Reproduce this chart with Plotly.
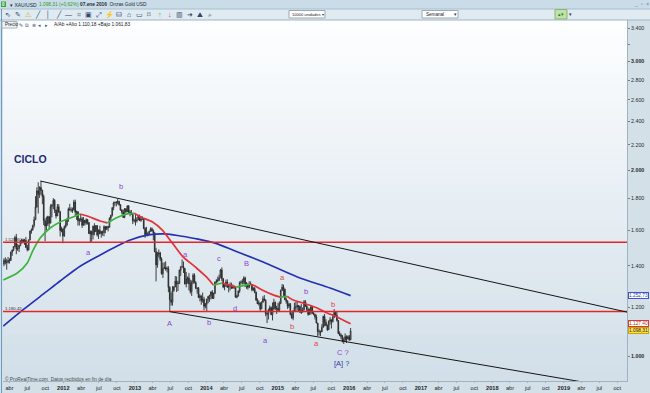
import math
import pandas as pd
import plotly.graph_objects as go

# ------------------------------------------------------------------ data
# weekly XAU/USD candles (high, low, close); open = previous close
prev_close_start = 1409.0
first_week = "2011-03-04"
weeks_2011 = [
    (1440, 1398, 1429), (1445, 1407, 1421), (1437, 1380, 1419), (1447, 1412, 1428),
    (1440, 1412, 1429), (1476, 1425, 1474), (1487, 1453, 1486), (1507, 1479, 1504),
    (1566, 1500, 1556), (1577, 1462, 1491), (1519, 1480, 1493), (1513, 1474, 1511),
    (1538, 1506, 1536), (1549, 1520, 1542), (1549, 1523, 1529), (1548, 1514, 1539),
    (1559, 1496, 1500), (1514, 1478, 1486), (1545, 1483, 1542), (1596, 1540, 1594),
    (1610, 1578, 1601), (1632, 1597, 1628), (1682, 1615, 1663), (1815, 1660, 1744),
    (1877, 1739, 1852), (1912, 1702, 1828), (1884, 1804, 1876), (1921, 1822, 1855),
    (1860, 1762, 1813), (1827, 1630, 1657), (1672, 1535, 1624), (1682, 1599, 1636),
    (1688, 1625, 1682), (1685, 1605, 1642), (1761, 1640, 1746), (1765, 1678, 1755),
    (1802, 1730, 1788), (1795, 1705, 1724), (1726, 1670, 1686), (1763, 1686, 1745),
    (1762, 1706, 1712), (1719, 1562, 1597), (1620, 1587, 1606), (1610, 1523, 1565),
]
weeks_2012 = [
    (1627, 1560, 1617), (1662, 1611, 1631), (1674, 1625, 1665), (1740, 1650, 1731),
    (1764, 1722, 1724), (1742, 1710, 1725), (1740, 1706, 1725), (1791, 1720, 1776),
    (1792, 1688, 1710), (1720, 1662, 1713), (1716, 1627, 1656), (1672, 1627, 1662),
    (1697, 1650, 1669), (1680, 1613, 1629), (1680, 1626, 1659), (1662, 1627, 1642),
    (1672, 1632, 1663), (1668, 1633, 1645), (1648, 1576, 1579), (1598, 1527, 1591),
    (1597, 1532, 1573), (1627, 1545, 1623), (1641, 1569, 1590), (1628, 1589, 1627),
    (1628, 1562, 1572), (1604, 1548, 1598), (1626, 1576, 1579), (1596, 1555, 1590),
    (1597, 1566, 1584), (1628, 1563, 1620), (1625, 1581, 1605), (1625, 1600, 1620),
    (1626, 1592, 1616), (1678, 1616, 1672), (1693, 1651, 1691), (1741, 1682, 1740),
    (1778, 1723, 1772), (1779, 1753, 1774), (1782, 1747, 1773), (1796, 1760, 1780),
    (1785, 1752, 1759), (1756, 1720, 1724), (1730, 1697, 1712), (1726, 1674, 1677),
    (1737, 1672, 1731), (1737, 1706, 1713), (1754, 1710, 1751), (1755, 1705, 1712),
    (1724, 1684, 1704), (1724, 1693, 1696), (1697, 1636, 1657), (1669, 1645, 1657),
]
weeks_2013 = [
    (1693, 1627, 1656), (1679, 1645, 1662), (1694, 1662, 1687), (1695, 1654, 1658),
    (1686, 1650, 1667), (1684, 1663, 1667), (1671, 1605, 1609), (1617, 1554, 1573),
    (1619, 1565, 1576), (1590, 1562, 1577), (1596, 1577, 1592), (1616, 1590, 1607),
    (1616, 1590, 1595), (1604, 1540, 1581), (1588, 1473, 1476), (1497, 1321, 1405),
    (1475, 1390, 1462), (1488, 1446, 1469), (1475, 1425, 1437), (1445, 1355, 1359),
    (1417, 1338, 1386), (1418, 1383, 1391), (1424, 1375, 1383), (1397, 1366, 1387),
    (1398, 1269, 1292), (1297, 1180, 1234), (1267, 1207, 1222), (1298, 1207, 1277),
    (1298, 1271, 1294), (1348, 1293, 1322), (1346, 1270, 1310), (1324, 1274, 1311),
    (1381, 1308, 1377), (1398, 1348, 1395), (1434, 1392, 1396), (1423, 1363, 1386),
    (1389, 1307, 1308), (1368, 1292, 1333), (1346, 1310, 1338), (1362, 1278, 1309),
    (1330, 1262, 1272), (1326, 1251, 1316), (1361, 1307, 1352), (1361, 1311, 1315),
    (1322, 1283, 1288), (1292, 1262, 1287), (1294, 1241, 1244), (1260, 1226, 1251),
    (1254, 1211, 1230), (1267, 1220, 1236), (1247, 1186, 1204), (1219, 1195, 1213),
]
weeks_2014 = [
    (1238, 1182, 1237), (1251, 1217, 1249), (1256, 1224, 1254), (1272, 1235, 1270),
    (1279, 1238, 1240), (1267, 1237, 1263), (1320, 1260, 1318), (1332, 1311, 1323),
    (1345, 1316, 1326), (1355, 1322, 1339), (1383, 1339, 1379), (1392, 1322, 1334),
    (1337, 1288, 1294), (1306, 1278, 1303), (1330, 1294, 1318), (1331, 1290, 1293),
    (1305, 1268, 1300), (1315, 1277, 1302), (1315, 1284, 1290), (1306, 1285, 1293),
    (1301, 1284, 1292), (1295, 1244, 1245), (1257, 1240, 1252), (1277, 1248, 1274),
    (1321, 1266, 1316), (1326, 1306, 1317), (1332, 1306, 1320), (1346, 1307, 1338),
    (1345, 1293, 1310), (1318, 1285, 1303), (1312, 1281, 1293), (1322, 1288, 1309),
    (1320, 1303, 1305), (1305, 1273, 1280), (1293, 1275, 1286), (1294, 1264, 1268),
    (1272, 1230, 1231), (1240, 1214, 1215), (1230, 1207, 1218), (1222, 1183, 1192),
    (1226, 1191, 1222), (1250, 1220, 1238), (1255, 1227, 1231), (1236, 1160, 1172),
    (1179, 1131, 1169), (1193, 1146, 1186), (1207, 1180, 1198), (1203, 1164, 1167),
    (1221, 1142, 1192), (1238, 1188, 1222), (1225, 1187, 1195), (1206, 1170, 1195),
]
weeks_2015 = [
    (1220, 1180, 1186), (1226, 1180, 1216), (1282, 1215, 1277), (1308, 1275, 1293),
    (1305, 1251, 1283), (1286, 1232, 1234), (1243, 1216, 1227), (1231, 1192, 1204),
    (1219, 1196, 1213), (1219, 1164, 1167), (1177, 1150, 1152), (1186, 1143, 1183),
    (1220, 1180, 1199), (1223, 1178, 1201), (1224, 1185, 1207), (1209, 1183, 1203),
    (1207, 1175, 1177), (1214, 1170, 1178), (1199, 1176, 1189), (1232, 1184, 1225),
    (1232, 1201, 1205), (1211, 1182, 1190), (1198, 1162, 1168), (1194, 1170, 1181),
    (1205, 1167, 1201), (1205, 1170, 1173), (1182, 1164, 1168), (1171, 1146, 1157),
    (1167, 1130, 1131), (1131, 1077, 1096), (1104, 1080, 1095), (1100, 1077, 1094),
    (1126, 1094, 1113), (1163, 1112, 1159), (1170, 1117, 1134), (1147, 1118, 1121),
    (1125, 1098, 1103), (1142, 1102, 1138), (1156, 1124, 1145), (1145, 1108, 1137),
    (1170, 1133, 1156), (1191, 1152, 1177), (1181, 1160, 1164), (1180, 1137, 1142),
    (1142, 1085, 1088), (1096, 1077, 1081), (1088, 1065, 1076), (1082, 1052, 1057),
    (1071, 1046, 1061), (1088, 1058, 1075), (1080, 1050, 1065), (1080, 1065, 1075),
]
weeks_2016 = [(1082, 1058, 1062), (1110.18, 1061.83, 1098.31)]

# short moving average (green = rising, red = falling)
ma_dates = ["2011-02-28", "2011-05-11", "2011-07-01", "2011-07-31", "2011-09-05",
            "2011-10-26", "2011-12-16", "2012-02-20", "2012-03-27", "2012-05-02",
            "2012-07-07", "2012-08-12", "2012-10-08", "2012-11-23", "2012-12-29",
            "2013-01-29", "2013-04-01", "2013-05-21", "2013-07-11", "2013-08-31",
            "2013-11-05", "2013-12-27", "2014-02-06", "2014-03-23", "2014-06-03",
            "2014-08-13", "2014-09-08", "2014-10-13", "2014-12-08", "2015-01-13",
            "2015-02-18", "2015-03-20", "2015-05-11", "2015-07-21", "2015-09-10",
            "2015-10-31", "2016-01-08"]
ma_values = [1328, 1363, 1415, 1485, 1553, 1612, 1649, 1680, 1699, 1686,
             1655, 1643, 1680, 1699, 1703, 1680, 1649, 1600, 1524, 1452,
             1394, 1348, 1303, 1313, 1293, 1308, 1298, 1279, 1256, 1246,
             1249, 1232, 1219, 1196, 1174, 1157, 1127.4]
ma_trend = ["g", "g", "g", "g", "g", "g", "g", "g", "r", "r",
            "r", "g", "g", "g", "r", "r", "r", "r", "r", "r",
            "r", "r", "g", "r", "g", "r", "r", "r", "r", "g",
            "r", "r", "r", "r", "r", "r"]

# long moving average (blue)
blue_dates = ["2011-02-28", "2011-06-15", "2011-10-05", "2011-12-16", "2012-03-29",
              "2012-07-08", "2012-09-23", "2012-12-08", "2013-03-11", "2013-06-06",
              "2013-08-21", "2013-11-20", "2014-02-15", "2014-05-28", "2014-10-18",
              "2015-04-11", "2015-09-25", "2016-01-08"]
blue_values = [1118, 1192, 1270, 1323, 1399, 1458, 1502, 1542, 1571, 1577,
               1565, 1547, 1524, 1480, 1420, 1343, 1289, 1252.73]

# horizontal levels and trend lines
level_upper = 1528.60
level_lower = 1180.42
trend_upper_dates = ["2011-09-06", "2019-11-20"]
trend_upper_values = [1921, 1178]
trend_lower_dates = ["2013-06-28", "2019-04-08"]
trend_lower_values = [1180, 907.5]

# wave labels: (text, date, price, colour)
PURPLE, RED, NAVY = "#8e44cf", "#e0434c", "#3b34a8"
wave_labels = [
    ("b", "2012-10-23", 1879, PURPLE), ("a", "2012-05-08", 1469, PURPLE),
    ("a", "2013-09-15", 1458, PURPLE), ("c", "2014-03-08", 1441, PURPLE),
    ("B", "2014-07-23", 1410, PURPLE), ("A", "2013-06-26", 1127, PURPLE),
    ("b", "2014-01-16", 1135, PURPLE), ("d", "2014-05-28", 1196, PURPLE),
    ("a", "2015-01-23", 1338, RED), ("b", "2015-05-26", 1274, PURPLE),
    ("b", "2015-03-15", 1118, RED), ("b", "2015-10-10", 1214, RED),
    ("a", "2014-10-28", 1058, PURPLE), ("a", "2015-07-16", 1046, RED),
    ("C ?", "2015-12-01", 1015, PURPLE), ("[A] ?", "2015-11-21", 974, NAVY),
]

price_ticks = [1000, 1200, 1400, 1600, 1800, 2000, 2200, 2400, 2600, 2800, 3000, 3200, 3400]
price_tick_text = ["<b>1.000</b>", "1.200", "1.400", "1.600", "1.800", "<b>2.000</b>", "2.200",
                   "2.400", "2.600", "2.800", "<b>3.000</b>", "", "3.400"]
quarter_names = {4: "abr", 7: "jul", 10: "oct"}
tick_years = list(range(2011, 2020))

last_price = 1098.31
ma_last = 1127.4
blue_last = 1252.73

# ------------------------------------------------------------------ build
weeks = weeks_2011 + weeks_2012 + weeks_2013 + weeks_2014 + weeks_2015 + weeks_2016
highs = [w[0] for w in weeks]
lows = [w[1] for w in weeks]
closes = [w[2] for w in weeks]
opens = [prev_close_start] + closes[:-1]
dates = pd.date_range(first_week, periods=len(weeks), freq="W-FRI")

X0, X1 = "2011-02-27", "2019-11-20"
Y0, Y1 = 911.0, 3503.0

W, H = 650, 393
ML, MR, MT, MB = 3, 23, 20, 12
PW, PH = W - ML - MR, H - MT - MB


def px(xp):
    return (xp - ML) / PW


def py(yp):
    return (H - MB - yp) / PH


fig = go.Figure()

fig.add_trace(go.Candlestick(
    x=dates, open=opens, high=highs, low=lows, close=closes,
    increasing=dict(line=dict(color="#2a2a2a", width=0.9), fillcolor="#f2f2f2"),
    decreasing=dict(line=dict(color="#2a2a2a", width=0.9), fillcolor="#2a2a2a"),
    whiskerwidth=0, hoverinfo="skip", showlegend=False,
))

# blue long MA
fig.add_trace(go.Scatter(x=blue_dates, y=blue_values, mode="lines",
                         line=dict(color="#2332b4", width=1.7, shape="spline", smoothing=0.8),
                         hoverinfo="skip", showlegend=False))

# short MA coloured by slope
a = 0
for j in range(1, len(ma_trend) + 1):
    if j == len(ma_trend) or ma_trend[j] != ma_trend[a]:
        col = "#3cb43c" if ma_trend[a] == "g" else "#e2323a"
        fig.add_trace(go.Scatter(x=ma_dates[a:j + 1], y=ma_values[a:j + 1], mode="lines",
                                 line=dict(color=col, width=1.7, shape="spline", smoothing=0.7),
                                 hoverinfo="skip", showlegend=False))
        a = j

# horizontal levels
for lv in (level_upper, level_lower):
    fig.add_trace(go.Scatter(x=[X0, X1], y=[lv, lv], mode="lines",
                             line=dict(color="#e3262c", width=1.6),
                             hoverinfo="skip", showlegend=False))

# trend lines
for tx, ty in ((trend_upper_dates, trend_upper_values), (trend_lower_dates, trend_lower_values)):
    fig.add_trace(go.Scatter(x=tx, y=ty, mode="lines", line=dict(color="#151515", width=1),
                             hoverinfo="skip", showlegend=False))

# ------------------------------------------------------------------ chrome
shapes = []


def hexmix(c1, c2, t):
    a1 = [int(c1[i:i + 2], 16) for i in (1, 3, 5)]
    a2 = [int(c2[i:i + 2], 16) for i in (1, 3, 5)]
    return "#" + "".join("%02x" % round(u + (v - u) * t) for u, v in zip(a1, a2))


nb = 40
for i in range(nb):
    t = i / (nb - 1)
    shapes.append(dict(type="rect", xref="paper", yref="paper", x0=0, x1=1,
                       y0=1 - (i + 1) / nb, y1=1 - i / nb + 0.002, layer="below",
                       line=dict(width=0), fillcolor=hexmix("#fdfeff", "#d2dfe8", t)))

# title bar and toolbar
shapes.append(dict(type="rect", xref="paper", yref="paper", x0=px(0), x1=px(W), y0=py(0), y1=py(9),
                   layer="below", line=dict(width=0), fillcolor="#c9dce7"))
shapes.append(dict(type="rect", xref="paper", yref="paper", x0=px(0), x1=px(W), y0=py(9), y1=py(20),
                   layer="below", line=dict(width=0), fillcolor="#dfeaf1"))
shapes.append(dict(type="line", xref="paper", yref="paper", x0=px(0), x1=px(W), y0=py(9), y1=py(9),
                   line=dict(color="#a9c0cf", width=1)))
shapes.append(dict(type="line", xref="paper", yref="paper", x0=px(0), x1=px(W), y0=py(20), y1=py(20),
                   line=dict(color="#9fb6c6", width=1)))
shapes.append(dict(type="line", xref="paper", yref="paper", x0=px(1.5), x1=px(1.5), y0=py(9), y1=py(H),
                   line=dict(color="#6b9bc2", width=1)))
# dropdown boxes
for x0b, x1b in ((289, 325), (422, 458)):
    shapes.append(dict(type="rect", xref="paper", yref="paper", x0=px(x0b), x1=px(x1b), y0=py(18), y1=py(10.5),
                       line=dict(color="#9aa9b4", width=1), fillcolor="#ffffff"))
shapes.append(dict(type="rect", xref="paper", yref="paper", x0=px(555), x1=px(567), y0=py(19), y1=py(9.5),
                   line=dict(color="#8fb07c", width=1), fillcolor="#bfe3a6"))
shapes.append(dict(type="rect", xref="paper", yref="paper", x0=px(1), x1=px(6), y0=py(7), y1=py(1.5),
                   line=dict(width=0), fillcolor="#3ca33c"))
shapes.append(dict(type="rect", xref="paper", yref="paper", x0=px(2), x1=px(17), y0=py(28), y1=py(21.5),
                   line=dict(color="#a6b4bf", width=1), fillcolor="#eef3f6"))
fig.update_layout(shapes=shapes)

annotations = []


def txt(s, x, y, size=5.5, color="#1c2b3a", anchor="left", bold=False):
    annotations.append(dict(text=("<b>%s</b>" % s) if bold else s, x=px(x), y=py(y),
                            xref="paper", yref="paper", xanchor=anchor, yanchor="middle",
                            showarrow=False, font=dict(size=size, color=color,
                                                       family="Liberation Sans, Arial, sans-serif")))


txt("0", 3.5, 4.3, size=4.5, color="#ffffff", anchor="center", bold=True)
txt("▾ XAU/USD", 7.5, 4.5, size=5)
txt("1.098,31 (+0,62%)", 37, 4.5, size=4.8, color="#2e9a2e")
txt("<b>07.ene 2016</b>  Onzas Gold USD", 78, 4.5, size=4.8)
txt("_  ▫  ×", 641, 4, size=5.5, color="#6f8797", anchor="center")

icons = ["⇖", "✎", "⚠", "╱", "│", "╱", "—", "⌗", "▣", "⤢", "⚡", "⛁", "⌂", "▭", "⌑", "↑", "↓", "▥", "➜", "⛰", "⌕"]
icon_cols = ["#30466e"] * len(icons)
icon_cols[2] = "#d9a400"
icon_cols[15] = "#2f9e2f"
icon_cols[16] = "#d62a2a"
for k, g in enumerate(icons):
    txt(g, 8 + k * 10.1, 14.5, size=7, color=icon_cols[k], anchor="center")
txt("10000 unidades", 290, 14.3, size=4, color="#222222")
txt("▾", 323, 14.3, size=4, color="#333333", anchor="center")
txt("Semanal", 424, 14.3, size=4.6, color="#222222")
txt("▾", 455, 14.3, size=4.5, color="#333333", anchor="center")
txt("▴▾", 561, 14.3, size=5, color="#2d7d2d", anchor="center")
txt("▾", 570, 14.3, size=5, color="#333333", anchor="center")

txt("Precio", 3, 24.8, size=4.6, color="#222222")
for k, g in enumerate(["✎", "⧉", "⊗", "◂", "▸"]):
    txt(g, 21 + k * 6.3, 24.8, size=5, color="#40566e", anchor="center")
txt("A/Ab +Alto 1.110,18 +Bajo 1.061,83", 52, 24.8, size=4.8, color="#222222")

txt("1.528,60", 3, 239.5, size=4.3, color="#333333")
txt("1.180,42", 3, 308.8, size=4.3, color="#333333")
txt("© ProRealTime.com  Datos recibidos en fin de día", 3, 378.5, size=4.8, color="#4a4a4a")
txt("CICLO", 30, 159, size=10.5, color="#262a78", anchor="center", bold=True)

for text, d, p, c in wave_labels:
    annotations.append(dict(text=text, x=d, y=math.log10(p), xref="x", yref="y",
                            showarrow=False, xanchor="center", yanchor="middle",
                            font=dict(size=7.5, color=c, family="Liberation Sans, Arial, sans-serif")))

for val, border, fill, fc in ((blue_last, "#3c56c8", "#ffffff", "#2a3db0"),
                              (ma_last, "#d93a3a", "#ffffff", "#c82828"),
                              (last_price, "#c9a600", "#ffe04a", "#222222")):
    s = "{:,.2f}".format(val).replace(",", "X").replace(".", ",").replace("X", ".")
    annotations.append(dict(text=s, x=px(638.5), y=math.log10(val), xref="paper", yref="y",
                            showarrow=False, xanchor="center", yanchor="middle",
                            bgcolor=fill, bordercolor=border, borderwidth=1, borderpad=0,
                            font=dict(size=4.8, color=fc, family="Liberation Sans, Arial, sans-serif")))

# x ticks
tickvals, ticktext = [], []
for yr in tick_years:
    for m in (1, 4, 7, 10):
        d = pd.Timestamp(year=yr, month=m, day=1)
        if pd.Timestamp(X0) <= d <= pd.Timestamp(X1):
            tickvals.append(d)
            ticktext.append("<b>%d</b>" % yr if m == 1 else quarter_names[m])

fig.update_layout(
    width=W, height=H, autosize=False,
    margin=dict(l=ML, r=MR, t=MT, b=MB, pad=0),
    paper_bgcolor="#d3e0e8", plot_bgcolor="rgba(0,0,0,0)",
    showlegend=False, annotations=annotations,
    font=dict(family="Liberation Sans, Arial, sans-serif"),
    xaxis=dict(type="date", range=[X0, X1], rangeslider=dict(visible=False),
               showgrid=False, zeroline=False, showline=True, linecolor="#9fb3c1", linewidth=1,
               tickvals=tickvals, ticktext=ticktext, ticks="outside", ticklen=1,
               tickcolor="#9fb3c1", tickfont=dict(size=5.6, color="#1e1e1e"), automargin=False,
               fixedrange=True),
    yaxis=dict(type="log", side="right", range=[math.log10(Y0), math.log10(Y1)],
               showgrid=False, zeroline=False, showline=True, linecolor="#9fb3c1", linewidth=1,
               tickvals=price_ticks, ticktext=price_tick_text, ticks="outside", ticklen=2,
               tickcolor="#6e7f8a", tickfont=dict(size=5.3, color="#2a2a2a"), automargin=False,
               fixedrange=True),
)

fig.write_html("out.html", config={"displayModeBar": False, "staticPlot": False},
               post_script="document.body.style.margin='0';document.body.style.overflow='hidden';")
